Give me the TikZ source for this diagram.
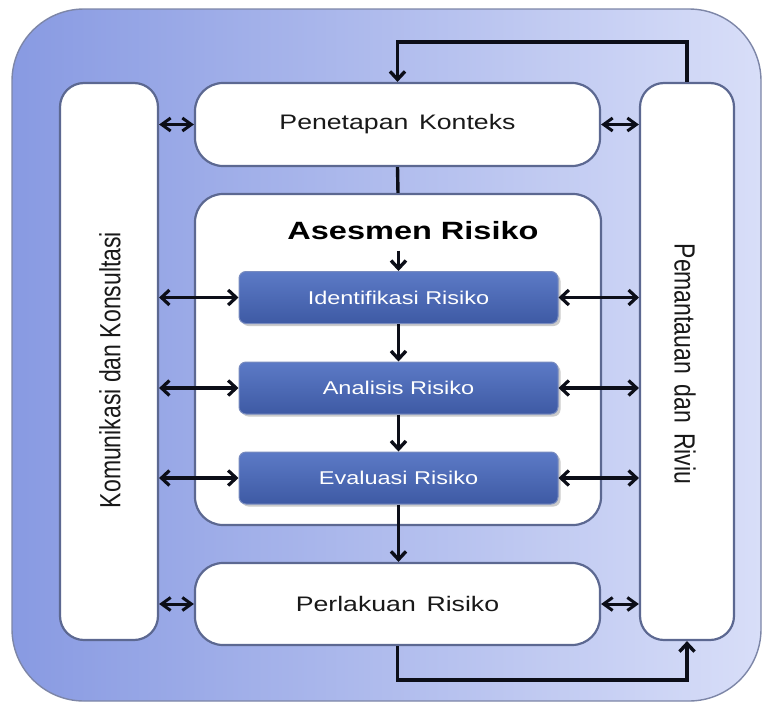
\documentclass[tikz,border=0pt]{standalone}
\usepackage{fontspec}
\setmainfont{Liberation Sans}
\usetikzlibrary{arrows.meta,shadows,calc}
\definecolor{bgL}{RGB}{136,154,226}
\definecolor{bgR}{RGB}{216,222,248}
\definecolor{edge}{RGB}{92,104,145}
\definecolor{boxblueT}{RGB}{92,122,198}
\definecolor{boxblueB}{RGB}{62,90,164}
\definecolor{ink}{RGB}{12,14,24}
\definecolor{txt}{RGB}{25,25,25}
\tikzset{
 whitebox/.style={draw=edge, line width=2.2pt, fill=white, rounded corners=28pt, inner sep=0pt, text=txt, font=\fontsize{21}{24}\selectfont},
 colbox/.style={whitebox, rounded corners=24pt},
 stepbox/.style={draw=boxblueB!70!white, line width=1pt, top color=boxblueT, bottom color=boxblueB, rounded corners=7pt, minimum width=319pt, minimum height=52pt, text=white, font=\fontsize{18.5}{20}\selectfont, drop shadow={shadow xshift=2.5pt, shadow yshift=-2.5pt, fill=black!40, opacity=0.5}},
 flow/.style={draw=ink, line width=3.4pt, -{Straight Barb[length=8pt,width=15pt]}},
 link/.style={draw=ink, line width=3.2pt, {Straight Barb[length=8pt,width=15pt]}-{Straight Barb[length=8pt,width=15pt]}},
 tinylink/.style={draw=ink, line width=3pt, {Straight Barb[length=9pt,width=13pt]}-{Straight Barb[length=9pt,width=13pt]}},
 plain/.style={draw=ink, line width=3.4pt},
 sidelabel/.style={font=\fontsize{23}{26}\selectfont, text=txt},
 titlelabel/.style={font=\bfseries\fontsize{25}{28}\selectfont, text=black},
}
\begin{document}
\begin{tikzpicture}[x=1pt,y=-1pt]
\useasboundingbox (0,0) rectangle (765,712);
\shadedraw[left color=bgL, right color=bgR, draw=edge!80, line width=1.4pt, rounded corners=72pt] (12,9) rectangle (761,701);

\node[colbox, minimum width=98pt, minimum height=557pt] (kom) at (109,361.5) {};
\node[colbox, minimum width=94pt, minimum height=557pt] (pem) at (687,361.5) {};
\node[sidelabel, rotate=90] (komt) at (110,370) {\scalebox{1}[1.27]{Komunikasi dan Konsultasi}};
\node[sidelabel, rotate=-90] (pemt) at (685,364) {\scalebox{1}[1.27]{Pemantauan\hspace{0.45em}dan\hspace{0.45em}Riviu}};

\node[whitebox, minimum width=405pt, minimum height=83pt] (pen) at (397.5,124.5) {\scalebox{1.27}[1]{Penetapan\hspace{0.4em}Konteks}};
\node[whitebox, minimum width=406pt, minimum height=331pt] (ase) at (398,359.5) {};
\node[titlelabel] (asetitle) at (413,231) {\scalebox{1.3}[1]{Asesmen Risiko}};
\node[whitebox, minimum width=405pt, minimum height=82pt] (per) at (397.5,604) {\scalebox{1.27}[1]{Perlakuan\hspace{0.4em}Risiko}};

\node[stepbox] (id) at (398.5,297.5) {\scalebox{1.27}[1]{Identifikasi Risiko}};
\node[stepbox] (an) at (398.5,388) {\scalebox{1.27}[1]{Analisis Risiko}};
\node[stepbox] (ev) at (398.5,478) {\scalebox{1.27}[1]{Evaluasi Risiko}};

\coordinate (toprun) at (400,42);
\coordinate (botrun) at (400,680);

\draw[flow] (pem.north) -- (pem.north |- toprun) -| (pen.north);
\draw[plain] (pen.south) -- (ase.north);
\draw[flow, shorten <=7pt] (id.north |- asetitle.south) -- (id.north);
\draw[flow] (id.south) -- (an.north);
\draw[flow] (an.south) -- (ev.north);
\draw[flow] (ev.south) -- (ev.south |- per.north);
\draw[flow] (per.south) -- (per.south |- botrun) -| (pem.south);

\foreach \n in {id,an,ev}{
  \draw[link] (kom.east |- \n.west) -- (\n.west);
  \draw[link] (\n.east) -- (pem.west |- \n.east);
}
\draw[tinylink] (kom.east |- pen.west) -- (pen.west);
\draw[tinylink] (pen.east) -- (pem.west |- pen.east);
\draw[tinylink] (kom.east |- per.west) -- (per.west);
\draw[tinylink] (per.east) -- (pem.west |- per.east);
\end{tikzpicture}
\end{document}
